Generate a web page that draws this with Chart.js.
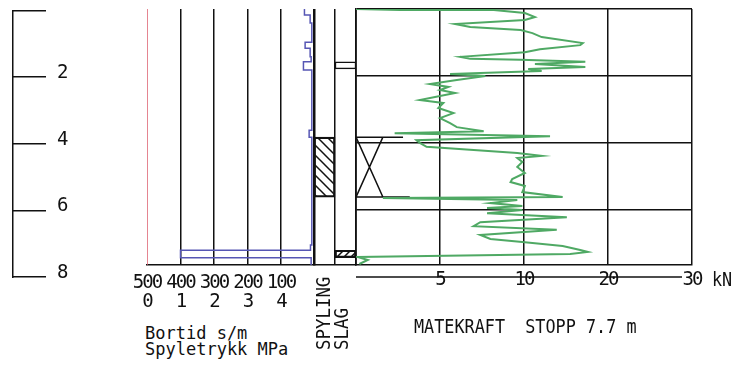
<!DOCTYPE html>
<html>
<head>
<meta charset="utf-8">
<script src="https://cdn.jsdelivr.net/npm/chart.js@4.4.1/dist/chart.umd.min.js"></script>
<style>
  body { margin: 0; background: #fff; width: 735px; height: 370px; overflow: hidden; position: relative; }
  canvas { position: absolute; top: 0; }
  .txt { position: absolute; font-family: "DejaVu Sans Mono", monospace; color: #111; white-space: pre; transform-origin: left top; }
</style>
</head>
<body>
<canvas id="depthChart" width="120" height="312" style="left:0px;top:-12px"></canvas>
<canvas id="bortChart" width="210" height="320" style="left:120px"></canvas>
<canvas id="colChart" width="70" height="320" style="left:300px"></canvas>
<canvas id="kraftChart" width="395" height="320" style="left:340px"></canvas>

<div class="txt" style="left:145px;top:325px;font-size:17px;line-height:17px">Bortid s/m</div>
<div class="txt" style="left:145px;top:341px;font-size:17px;line-height:17px">Spyletrykk MPa</div>
<div class="txt" style="left:313px;top:350px;font-size:20px;line-height:20px;transform:rotate(-90deg) scaleX(0.87)">SPYLING</div>
<div class="txt" style="left:331px;top:350px;font-size:20px;line-height:20px;transform:rotate(-90deg) scaleX(0.87)">SLAG</div>
<div class="txt" style="left:414px;top:316px;font-size:20px;line-height:20px;transform:scaleX(0.84)">MATEKRAFT  STOPP 7.7 m</div>
<div class="txt" style="left:712px;top:269px;font-size:20px;line-height:20px;transform:scaleX(0.84)">kN</div>

<script>
// depth of the drilled log (bottom of the panels), m
const panelDepth = 7.65;

// tick values
const depthTicks = [0, 2, 4, 6, 8];
const bortTicks = [500, 400, 300, 200, 100, 0];
const mpaTicks = [0, 1, 2, 3, 4, 5];
const kraftTicks = [0, 5, 10, 20, 30];
const kraftGridDepth = [0, 2, 4, 6];
const colLabels = ["SPYLING", "SLAG"];

// bortid s/m (stepped)
const bortDepth = [0, 0.18, 0.42, 0.99, 1.17, 1.43, 1.58, 1.82, 3.62, 3.83, 7.05, 7.21, 7.43, 7.65];
const bortVal = [30, 13, 8, 28, 13, 10, 33, 8, 16, 8, 12, 400, 10, 10];

// spyletrykk MPa
const spyleDepth = [0, 7.65];
const spyleVal = [0, 0];

// matekraft kN
const kraftDepth = [0, 0.03, 0.03, 0.12, 0.24, 0.33, 0.45, 0.54, 0.63, 0.72, 0.84, 1.02, 1.08, 1.2, 1.29,
  1.43, 1.49, 1.52, 1.58, 1.64, 1.73, 1.79, 1.85, 1.94, 2.0, 2.12, 2.24, 2.33, 2.42, 2.51, 2.72, 2.81,
  2.96, 3.11, 3.26, 3.41, 3.53, 3.65, 3.71, 3.8, 3.92, 4.0, 4.12, 4.3, 4.39, 4.45, 4.57, 4.72, 4.9, 5.08,
  5.17, 5.29, 5.47, 5.62, 5.65, 5.71, 5.8, 5.89, 5.95, 6.01, 6.1, 6.22, 6.37, 6.49, 6.6, 6.75, 6.87,
  6.96, 7.08, 7.2, 7.26, 7.32, 7.41, 7.5, 7.62];
const kraftVal = [0, 2.6, 8.2, 10.1, 11.3, 10.1, 5.9, 6.8, 9.8, 11.0, 12.1, 17.0, 16.7, 11.9, 10.1,
  6.2, 6.8, 9.8, 17.3, 11.3, 17.3, 10.5, 12.1, 5.6, 7.7, 6.0, 4.4, 5.5, 5.0, 5.9, 3.8, 5.2,
  4.9, 5.8, 5.0, 5.6, 6.0, 7.6, 2.3, 13.1, 3.6, 3.8, 4.2, 9.6, 12.1, 9.6, 9.9, 9.6, 10.1, 9.3,
  9.2, 10.1, 9.9, 14.6, 1.6, 9.6, 8.0, 9.9, 7.8, 9.9, 7.8, 15.1, 7.4, 7.0, 13.9, 7.4, 8.0,
  9.9, 14.6, 16.7, 17.6, 15.5, 0.1, 0.7, 0.2];

// spyling / slag intervals (from, to) m
const spylingInt = [3.83, 5.62];
const slagHatchInt = [7.21, 7.43];
const slagMarkInt = [1.58, 1.79];

// spyling mark in the matekraft panel
const markKN = [2.8, 0, 1.6, 3.2, 0, 1.6];
const markDepth = [3.83, 3.83, 5.62, 5.62, 5.62, 3.83];

// 0-5-10-20-30 kN axis, every step the same width
function kraftPos(v) {
  return v <= 10 ? v / 5 : 2 + (v - 10) / 10;
}

const ink = "#111";
const tickFont = { family: '"DejaVu Sans Mono", monospace', size: 19 };
Chart.defaults.color = ink;
Chart.defaults.font.family = tickFont.family;
const noPlugins = { legend: { display: false }, tooltip: { enabled: false } };

// plotter-like narrow digits
Chart.register({
  id: "tightText",
  beforeUpdate(chart) { chart.ctx.letterSpacing = "-2px"; },
  beforeDraw(chart) { chart.ctx.letterSpacing = "-2px"; },
});

// depth scale
new Chart(document.getElementById("depthChart"), {
  type: "scatter",
  data: { datasets: [] },
  options: {
    animation: false,
    responsive: false,
    layout: { padding: { left: 13, right: 0, top: 21, bottom: 23 } },
    scales: {
      x: { display: false, min: 0, max: 1 },
      yl: {
        position: "left", reverse: true, min: 0, max: 8,
        ticks: { display: false },
        grid: { display: false },
        border: { color: ink, width: 1.5 },
        afterFit: (s) => { s.width = 0; },
      },
      y: {
        position: "right", reverse: true, min: 0, max: 8,
        afterBuildTicks: (s) => { s.ticks = depthTicks.map((v) => ({ value: v })); },
        ticks: { callback: (v) => (v === 0 ? "" : v), padding: 11, labelOffset: -4, font: tickFont },
        grid: { color: ink, lineWidth: 1.5, drawTicks: false },
        border: { display: false },
        afterFit: (s) => { s.width = 74; },
      },
    },
    plugins: noPlugins,
  },
});

// bortid / spyletrykk
new Chart(document.getElementById("bortChart"), {
  type: "scatter",
  data: {
    datasets: [
      {
        label: "Bortid s/m",
        data: bortDepth.map((d, i) => ({ x: bortVal[i], y: d })),
        xAxisID: "x",
        showLine: true,
        stepped: "after",
        borderColor: "#5656b4",
        borderWidth: 1.5,
        pointRadius: 0,
      },
      {
        label: "Spyletrykk MPa",
        data: spyleDepth.map((d, i) => ({ x: spyleVal[i], y: d })),
        xAxisID: "x2",
        showLine: true,
        borderColor: "#dd5d6c",
        borderWidth: 1.5,
        pointRadius: 0,
      },
    ],
  },
  options: {
    animation: false,
    responsive: false,
    layout: { padding: { left: 27, right: 15.5, top: 9, bottom: 10 } },
    scales: {
      x: {
        type: "linear", position: "bottom", reverse: true, min: 0, max: 500,
        afterBuildTicks: (s) => { s.ticks = bortTicks.map((v) => ({ value: v })); },
        ticks: {
          // s/m on the first row, MPa on the second
          callback: (v, i) => [
            bortTicks[i] === 0 ? "" : String(bortTicks[i]),
            mpaTicks[i] === 5 ? "" : String(mpaTicks[i]),
          ],
          padding: 9, maxRotation: 0, autoSkip: false,
          font: { ...tickFont, lineHeight: 1 },
        },
        grid: {
          color: (c) => (c.tick && c.tick.value === 500 ? "rgba(0,0,0,0)" : ink),
          lineWidth: 1.5,
          drawTicks: false,
        },
        border: { color: ink, width: 1.5 },
        afterFit: (s) => { s.height = 45; },
      },
      x2: { type: "linear", display: false, min: 0, max: 5 },
      y: { display: false, reverse: true, min: 0, max: panelDepth },
    },
    plugins: noPlugins,
  },
});

// spyling / slag columns
const colCtx = document.getElementById("colChart").getContext("2d");
function hatch(forward, size) {
  const c = document.createElement("canvas");
  c.width = c.height = size;
  const g = c.getContext("2d");
  g.strokeStyle = ink;
  g.lineWidth = 1.5;
  g.beginPath();
  if (forward) {
    g.moveTo(0, size); g.lineTo(size, 0);
    g.moveTo(-2, 2); g.lineTo(2, -2);
    g.moveTo(size - 2, size + 2); g.lineTo(size + 2, size - 2);
  } else {
    g.moveTo(0, 0); g.lineTo(size, size);
    g.moveTo(-2, size - 2); g.lineTo(2, size + 2);
    g.moveTo(size - 2, -2); g.lineTo(size + 2, 2);
  }
  g.stroke();
  return colCtx.createPattern(c, "repeat");
}

new Chart(colCtx, {
  type: "bar",
  data: {
    labels: colLabels,
    datasets: [
      { label: "Spyling", data: [spylingInt, null], backgroundColor: hatch(false, 10) },
      { label: "Slag", data: [null, slagHatchInt], backgroundColor: hatch(true, 7) },
      { label: "Slag mark", data: [null, slagMarkInt], backgroundColor: "#fff" },
    ],
  },
  options: {
    animation: false,
    responsive: false,
    layout: { padding: { left: 14, right: 14, top: 9, bottom: 55 } },
    datasets: {
      bar: {
        grouped: false, barPercentage: 1, categoryPercentage: 1,
        borderColor: ink, borderWidth: 1.5, borderSkipped: false,
      },
    },
    scales: {
      x: {
        ticks: { display: false },
        grid: { color: ink, lineWidth: 1.5, drawTicks: false, offset: true },
        border: { color: ink, width: 1.5 },
        afterFit: (s) => { s.height = 0; },
      },
      y: { display: false, reverse: true, min: 0, max: panelDepth },
    },
    plugins: noPlugins,
  },
});

// matekraft
const kraftAxisLine = {
  id: "kraftAxisLine",
  afterDraw(chart) {
    const { ctx, chartArea, scales } = chart;
    const y = scales.x.top + 12;
    ctx.save();
    ctx.strokeStyle = ink;
    ctx.lineWidth = 1.5;
    ctx.beginPath();
    ctx.moveTo(chartArea.left, y);
    ctx.lineTo(chartArea.right - 10, y);
    ctx.stroke();
    ctx.restore();
  },
};

new Chart(document.getElementById("kraftChart"), {
  type: "scatter",
  data: {
    datasets: [
      {
        label: "Matekraft",
        data: kraftDepth.map((d, i) => ({ x: kraftPos(kraftVal[i]), y: d })),
        showLine: true,
        borderColor: "#4fa964",
        borderWidth: 2,
        pointRadius: 0,
      },
      {
        label: "Spyling",
        data: markDepth.map((d, i) => ({ x: kraftPos(markKN[i]), y: d })),
        showLine: true,
        borderColor: ink,
        borderWidth: 1.5,
        pointRadius: 0,
      },
    ],
  },
  options: {
    animation: false,
    responsive: false,
    layout: { padding: { left: 16, right: 43, top: 9, bottom: 25 } },
    scales: {
      x: {
        type: "linear", min: 0, max: kraftPos(30),
        afterBuildTicks: (s) => { s.ticks = kraftTicks.map((v) => ({ value: kraftPos(v) })); },
        ticks: {
          callback: (v, i) => (kraftTicks[i] === 0 ? "" : String(kraftTicks[i])),
          padding: 4, maxRotation: 0, autoSkip: false, font: tickFont,
        },
        grid: { color: ink, lineWidth: 1.5, drawTicks: false },
        border: { color: ink, width: 1.5 },
        afterFit: (s) => { s.height = 30; },
      },
      y: {
        reverse: true, min: 0, max: panelDepth,
        afterBuildTicks: (s) => { s.ticks = kraftGridDepth.map((v) => ({ value: v })); },
        ticks: { display: false },
        grid: { color: ink, lineWidth: 1.5, drawTicks: false },
        border: { color: ink, width: 1.5 },
        afterFit: (s) => { s.width = 0; },
      },
    },
    plugins: noPlugins,
  },
  plugins: [kraftAxisLine],
});
</script>
</body>
</html>
